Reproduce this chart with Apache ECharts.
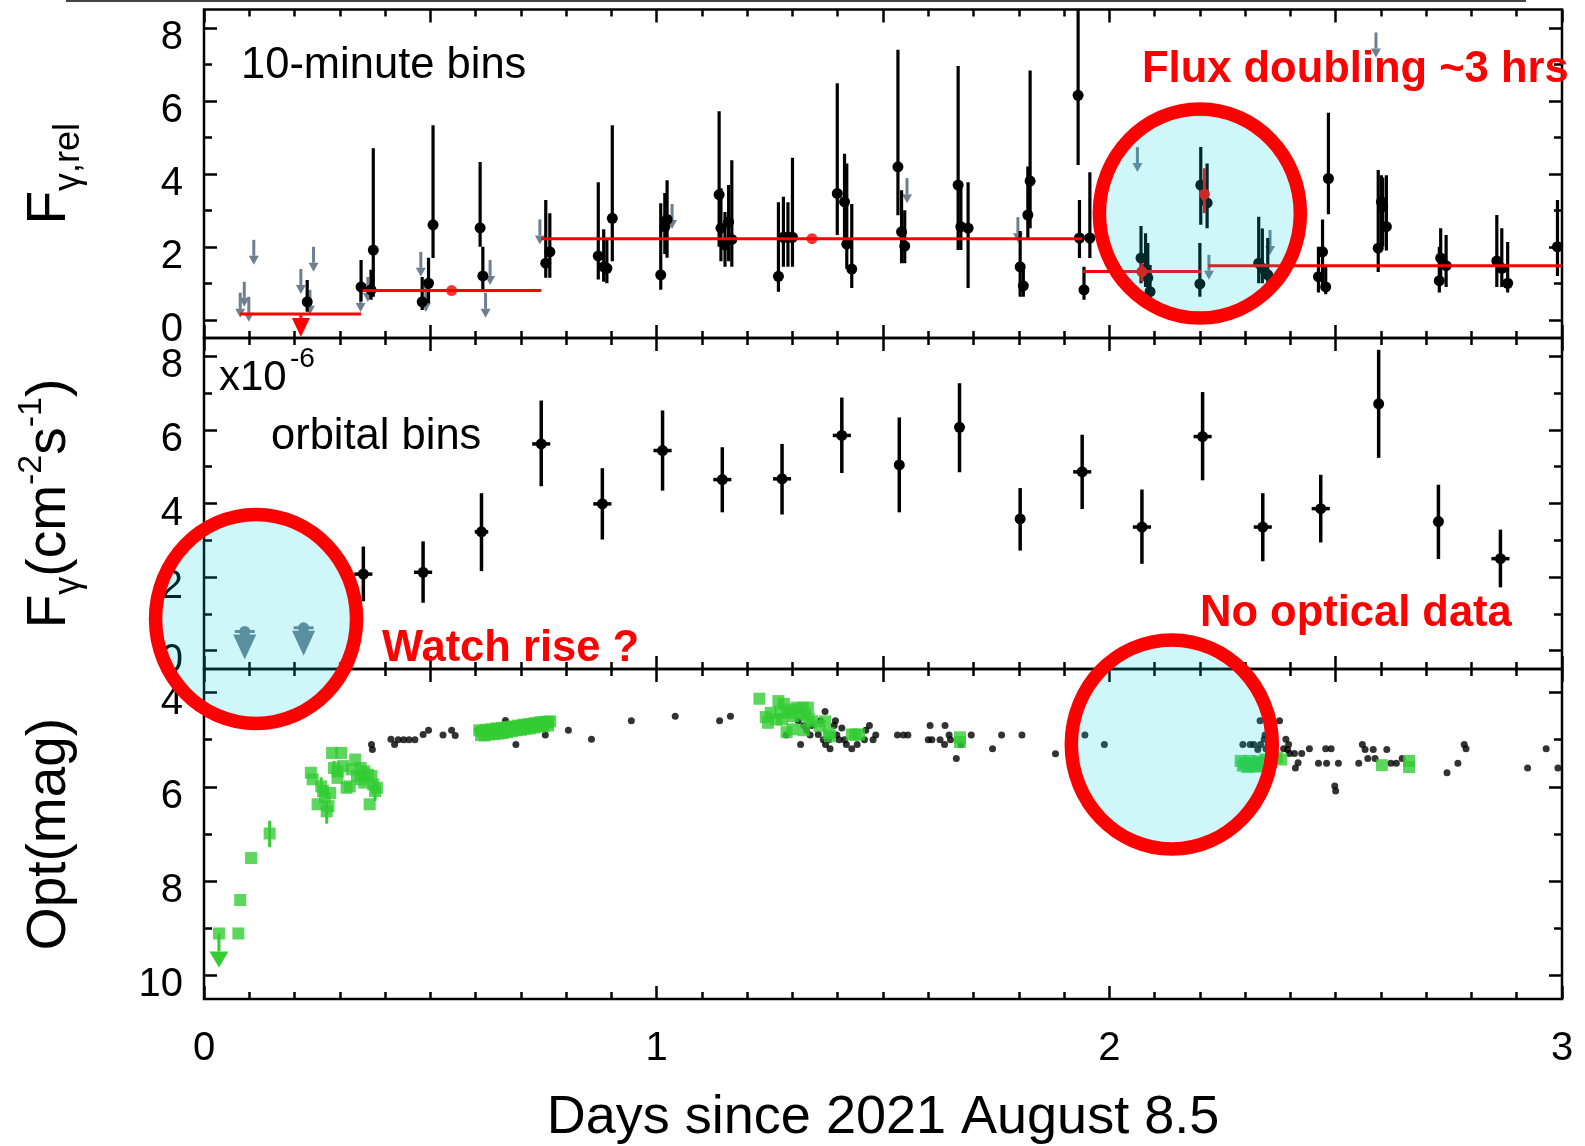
<!DOCTYPE html>
<html>
<head>
<meta charset="utf-8">
<title>Gamma-ray and optical light curves</title>
<script src="https://cdn.jsdelivr.net/npm/echarts@6.0.0/dist/echarts.min.js"></script>
<style>
  html, body { margin: 0; padding: 0; background: #fff; }
  #chart { width: 1585px; height: 1146px; }
</style>
</head>
<body>
<div id="chart"></div>
<script>
// ---- data (days since 2021 Aug 8.5) ----

// 10-minute bins: [day, flux, low, high]
const tenMinDetections = [
  [0.228, 0.49, 0.22, 1.09], [0.347, 0.90, 0.50, 1.64], [0.369, 0.82, 0.55, 1.37], [0.374, 1.91, 0.63, 4.70],
  [0.482, 0.49, 0.27, 1.17], [0.496, 1.00, 0.45, 1.70], [0.506, 2.60, 1.69, 5.33],
  [0.610, 2.52, 2.00, 4.32], [0.616, 1.20, 0.82, 2.00],
  [0.755, 1.55, 1.15, 3.28], [0.764, 1.86, 1.15, 2.92],
  [0.871, 1.75, 1.10, 3.77], [0.883, 1.45, 1.04, 2.48], [0.890, 1.41, 1.00, 2.20], [0.902, 2.78, 1.60, 5.33],
  [1.009, 1.23, 0.82, 3.19], [1.018, 2.55, 1.80, 3.47], [1.023, 2.75, 1.70, 3.82],
  [1.138, 3.43, 2.00, 5.71], [1.142, 2.51, 1.60, 3.60], [1.151, 2.05, 1.45, 2.95], [1.159, 2.68, 1.60, 3.69], [1.166, 2.20, 1.45, 4.37],
  [1.269, 1.19, 0.77, 3.22], [1.280, 2.26, 1.45, 3.37], [1.290, 2.26, 1.45, 3.22], [1.300, 2.26, 1.45, 4.44],
  [1.399, 3.46, 2.32, 6.48], [1.415, 3.23, 2.10, 4.55], [1.420, 2.07, 1.40, 4.28], [1.431, 1.39, 0.87, 3.17],
  [1.533, 4.19, 2.86, 7.40], [1.541, 2.41, 1.55, 3.55], [1.548, 2.02, 1.55, 3.00],
  [1.666, 3.69, 1.91, 6.95], [1.672, 2.55, 1.91, 3.60], [1.688, 2.51, 0.87, 3.77],
  [1.803, 1.45, 0.63, 2.43], [1.810, 0.93, 0.63, 1.50], [1.820, 2.87, 2.20, 4.20], [1.825, 3.80, 2.51, 6.83],
  [1.931, 6.15, 4.24, 8.50], [1.934, 2.24, 1.69, 3.28], [1.944, 0.82, 0.55, 1.45], [1.957, 2.24, 1.69, 4.04],
  [2.070, 1.69, 1.00, 2.57], [2.080, 1.40, 0.90, 2.37], [2.085, 1.15, 0.80, 2.10], [2.090, 0.77, 0.60, 1.50],
  [2.200, 0.98, 0.63, 2.10], [2.202, 3.69, 2.60, 4.73], [2.216, 3.20, 2.51, 4.28],
  [2.330, 1.55, 1.00, 2.82], [2.338, 1.41, 1.00, 2.50], [2.350, 1.23, 0.90, 2.24],
  [2.462, 1.18, 0.75, 2.00], [2.471, 1.86, 0.90, 2.75], [2.478, 0.90, 0.70, 1.50], [2.484, 3.87, 2.89, 5.67],
  [2.594, 1.96, 1.31, 4.10], [2.601, 3.23, 2.00, 3.96], [2.604, 3.10, 2.00, 3.90], [2.612, 2.55, 1.90, 3.96],
  [2.729, 1.07, 0.75, 2.00], [2.732, 1.69, 1.00, 2.51], [2.744, 1.48, 0.90, 2.32],
  [2.856, 1.61, 0.90, 2.87], [2.867, 1.41, 0.90, 2.51], [2.880, 1.00, 0.75, 2.13],
  [2.990, 2.00, 1.20, 3.28]
];
// 10-minute upper limits: [day, limit]
const tenMinLimits = [
  [0.080, 0.74], [0.089, 1.04], [0.099, 0.63], [0.110, 2.19], [0.214, 1.39], [0.234, 0.82], [0.242, 2.00],
  [0.346, 0.90], [0.362, 1.17], [0.479, 1.86], [0.490, 0.90], [0.622, 0.74], [0.632, 1.64], [0.742, 2.75],
  [1.034, 3.17], [1.553, 3.88], [1.798, 2.81], [2.062, 4.73], [2.220, 1.78], [2.355, 2.46], [2.589, 7.87]
];
// segment averages: [start, end, flux]
const segmentLevels = [
  [0.080, 0.347, 0.16], [0.350, 0.745, 0.80], [0.745, 1.940, 2.22], [1.942, 2.203, 1.32], [2.218, 3.000, 1.48]
];
const segmentPoints = [[0.547, 0.80], [1.343, 2.22]];
const segmentPointsErr = [[2.072, 1.32, 1.05, 1.55], [2.210, 3.44, 2.92, 4.15]];
const segmentLimit = [[0.214, 0.16]];

// orbital bins: [day, flux (1e-6), low, high, half-width]
const orbitalDetections = [
  [0.352, 2.08, 1.34, 2.83, 0.02], [0.484, 2.13, 1.30, 2.97, 0.02], [0.613, 3.23, 2.16, 4.28, 0.015],
  [0.745, 5.62, 4.47, 6.80, 0.02], [0.880, 3.99, 3.02, 4.96, 0.02], [1.013, 5.44, 4.35, 6.53, 0.02],
  [1.145, 4.65, 3.76, 5.53, 0.02], [1.277, 4.67, 3.70, 5.62, 0.02], [1.409, 5.85, 4.83, 6.88, 0.02],
  [1.536, 5.05, 3.76, 6.34, 0.01], [1.669, 6.07, 4.85, 7.27, 0.01], [1.803, 3.58, 2.72, 4.42, 0.01],
  [1.940, 4.86, 3.85, 5.87, 0.02], [2.072, 3.36, 2.36, 4.38, 0.02], [2.206, 5.82, 4.63, 7.03, 0.02],
  [2.339, 3.36, 2.43, 4.28, 0.02], [2.467, 3.86, 2.94, 4.78, 0.02], [2.595, 6.71, 5.24, 8.18, 0.01],
  [2.727, 3.51, 2.49, 4.51, 0.01], [2.864, 2.50, 1.72, 3.29, 0.02]
];
const orbitalLimits = [[0.090, 0.52], [0.220, 0.62]];

// optical magnitudes: [day, mag]
const optSmall = [
  [0.370, 5.10], [0.372, 5.21], [0.413, 4.99], [0.421, 5.10], [0.429, 5.00], [0.441, 5.00], [0.453, 5.00],
  [0.466, 5.00], [0.484, 4.89], [0.496, 4.80], [0.528, 4.90], [0.547, 4.80], [0.555, 4.91], [0.605, 4.80],
  [0.666, 4.59], [0.689, 5.10], [0.754, 4.90], [0.805, 4.80], [0.856, 4.99], [0.944, 4.60], [1.041, 4.50],
  [1.139, 4.60], [1.163, 4.50],
  [1.286, 4.90], [1.313, 4.60], [1.318, 5.10], [1.325, 4.70], [1.331, 4.80], [1.339, 4.90], [1.343, 4.70],
  [1.357, 4.89], [1.362, 4.60], [1.368, 5.00], [1.372, 4.40], [1.373, 5.10], [1.380, 5.00], [1.383, 5.19],
  [1.392, 4.70], [1.395, 4.60], [1.398, 4.90], [1.403, 5.00], [1.409, 4.75], [1.415, 5.00], [1.419, 5.10],
  [1.431, 5.19], [1.443, 5.10], [1.459, 5.00], [1.462, 4.80], [1.470, 4.70], [1.478, 5.00], [1.484, 4.90],
  [1.532, 4.90], [1.545, 4.90], [1.555, 4.90], [1.600, 5.00], [1.604, 4.70], [1.608, 5.00], [1.626, 5.00],
  [1.636, 5.10], [1.637, 4.70], [1.646, 4.90], [1.649, 5.00], [1.662, 5.40], [1.672, 5.10], [1.695, 4.90],
  [1.742, 5.19], [1.762, 4.90], [1.807, 4.90], [1.881, 5.30], [1.946, 4.90], [1.989, 5.10],
  [2.295, 5.10], [2.311, 5.10], [2.319, 5.10], [2.328, 5.21], [2.333, 4.60], [2.334, 5.10], [2.342, 4.99],
  [2.344, 4.90], [2.346, 5.19], [2.351, 5.10], [2.376, 4.60], [2.385, 5.19], [2.390, 4.99], [2.394, 5.21],
  [2.396, 5.10], [2.398, 5.29], [2.409, 5.29], [2.411, 5.60], [2.417, 5.49], [2.425, 5.29], [2.442, 5.19],
  [2.462, 5.50], [2.478, 5.19], [2.480, 5.50], [2.490, 5.19], [2.498, 5.98], [2.500, 6.09], [2.506, 5.50],
  [2.551, 5.50], [2.559, 5.10], [2.565, 5.21], [2.571, 5.40], [2.583, 5.21], [2.587, 5.40], [2.613, 5.21],
  [2.622, 5.50], [2.634, 5.50], [2.647, 5.40], [2.746, 5.70], [2.770, 5.50], [2.784, 5.10], [2.788, 5.19],
  [2.924, 5.60], [2.965, 5.19], [2.991, 5.60]
];
const optSquares = [
  [0.033, 9.11], [0.076, 9.11], [0.080, 8.40], [0.104, 7.51], [0.145, 6.99],
  [0.236, 5.70], [0.240, 5.84], [0.251, 6.37], [0.259, 5.99], [0.263, 6.09], [0.267, 6.23], [0.271, 6.52],
  [0.275, 6.41], [0.279, 6.13], [0.283, 5.28], [0.287, 5.60], [0.295, 5.81], [0.295, 5.67], [0.303, 5.28],
  [0.307, 5.56], [0.315, 6.02], [0.322, 5.99], [0.326, 5.63], [0.334, 5.42], [0.338, 5.77], [0.346, 5.60],
  [0.346, 5.84], [0.354, 5.91], [0.354, 5.67], [0.362, 5.74], [0.366, 6.37], [0.370, 5.77], [0.374, 5.95],
  [0.378, 6.09], [0.382, 6.02],
  [0.608, 4.80], [0.615, 4.82], [0.622, 4.79], [0.628, 4.81], [0.634, 4.78], [0.640, 4.80], [0.646, 4.76],
  [0.652, 4.78], [0.658, 4.75], [0.664, 4.77], [0.670, 4.73], [0.676, 4.75], [0.682, 4.72], [0.688, 4.73],
  [0.694, 4.70], [0.700, 4.71], [0.706, 4.68], [0.712, 4.70], [0.718, 4.67], [0.724, 4.68], [0.730, 4.65],
  [0.736, 4.66], [0.742, 4.63], [0.748, 4.64], [0.754, 4.62], [0.760, 4.63], [0.765, 4.61],
  [0.612, 4.90], [0.620, 4.91], [0.630, 4.89], [0.640, 4.88], [0.650, 4.87], [0.660, 4.86], [0.670, 4.84],
  [0.680, 4.82], [0.690, 4.80], [0.700, 4.79], [0.710, 4.77], [0.720, 4.76], [0.730, 4.74], [0.740, 4.72],
  [0.750, 4.71], [0.760, 4.70],
  [1.227, 4.13], [1.241, 4.52], [1.246, 4.64], [1.252, 4.43], [1.265, 4.57], [1.269, 4.18], [1.273, 4.40],
  [1.277, 4.57], [1.281, 4.24], [1.287, 4.84], [1.289, 4.43], [1.297, 4.36], [1.300, 4.78], [1.301, 4.50],
  [1.309, 4.32], [1.315, 4.43], [1.323, 4.32], [1.325, 4.80], [1.328, 4.47], [1.334, 4.32], [1.336, 4.56],
  [1.344, 4.61], [1.360, 4.71], [1.372, 4.61], [1.380, 4.86], [1.383, 4.93], [1.431, 4.89], [1.439, 4.89],
  [1.447, 4.89], [1.670, 4.95], [1.670, 5.05],
  [2.290, 5.45], [2.295, 5.55], [2.300, 5.50], [2.305, 5.58], [2.310, 5.45], [2.315, 5.55], [2.320, 5.50],
  [2.325, 5.57], [2.330, 5.46], [2.335, 5.55], [2.340, 5.50], [2.345, 5.42], [2.350, 5.52], [2.360, 5.40],
  [2.370, 5.38], [2.380, 5.42], [2.602, 5.54], [2.662, 5.45], [2.662, 5.58]
];
// optical error bars: [day, mag, low, high]
const optSquaresErr = [
  [0.145, 6.99, 6.72, 7.28], [0.271, 6.52, 6.30, 6.78], [0.259, 5.99, 5.80, 6.20],
  [0.378, 6.09, 5.90, 6.30], [0.287, 5.60, 5.45, 5.80]
];
const optSquaresLimit = [[0.033, 9.11]];

const fluxMajor = [0, 2, 4, 6, 8];
const fluxMinor = [1, 3, 5, 7];
const magMajor = [4, 6, 8, 10];
const magMinor = [5, 7, 9];
const dayLabels = [0, 1, 2, 3];

// ---- chart ----
const FONT = "'Liberation Sans', Arial, Helvetica, sans-serif";
const GREY = '#6e7f90';
const GREEN = '#33cc33';
const RED = '#ff0000';

const chart = echarts.init(document.getElementById('chart'));

const panels = [
  { top: 9.5, height: 328.5, min: -0.5, max: 8.5, inverse: false, major: fluxMajor, minor: fluxMinor },
  { top: 338, height: 331, min: -0.5, max: 8.5, inverse: false, major: fluxMajor, minor: fluxMinor },
  { top: 669, height: 330, min: 3.5, max: 10.5, inverse: true, major: magMajor, minor: magMinor }
];

const tickLine = { color: '#000', width: 2.5 };
const nameRich = {
  m: { fontSize: 55, fontFamily: FONT, color: '#000', lineHeight: 55, padding: [14, 0, 10, 0], verticalAlign: 'bottom' },
  s: { fontSize: 36, fontFamily: FONT, color: '#000', lineHeight: 36, verticalAlign: 'bottom' },
  p: { fontSize: 34, fontFamily: FONT, color: '#000', lineHeight: 34, padding: [0, 0, 38, 0], verticalAlign: 'bottom' }
};
const yNames = [
  { name: '{m|F}{s|γ,rel}', gap: 117 },
  { name: '{m|F}{s|γ}{m|(cm}{p|-2}{m|s}{p|-1}{m|)}', gap: 117 },
  { name: 'Opt(mag)', gap: 127 }
];

const grid = panels.map(p => ({
  left: 204, right: 23, top: p.top, height: p.height,
  show: true, borderColor: '#000', borderWidth: 2.5, backgroundColor: 'transparent'
}));

const xAxis = [];
const yAxis = [];
panels.forEach((p, gi) => {
  const last = gi === panels.length - 1;
  const xBase = {
    type: 'value', gridIndex: gi, min: 0, max: 3, splitLine: { show: false },
    axisLine: { show: false, onZero: false },
    axisTick: { inside: true, length: 13, lineStyle: tickLine },
    minorTick: { show: true, length: 7, lineStyle: tickLine },
    minorSplitLine: { show: false }
  };
  xAxis.push(Object.assign({}, xBase, {
    position: 'bottom',
    interval: last ? 1 : 0.5,
    minorTick: Object.assign({}, xBase.minorTick, { splitNumber: last ? 10 : 5 }),
    axisLabel: last
      ? { customValues: dayLabels, fontSize: 40, fontFamily: FONT, color: '#000', margin: 30 }
      : { show: false },
    name: last ? 'Days since 2021 August 8.5' : '',
    nameLocation: 'middle', nameGap: 92,
    nameTextStyle: { fontSize: 54, fontFamily: FONT, color: '#000' }
  }));
  xAxis.push(Object.assign({}, xBase, {
    position: 'top', interval: 0.5,
    minorTick: Object.assign({}, xBase.minorTick, { splitNumber: 5 }),
    axisLabel: { show: false }
  }));

  const yBase = {
    type: 'value', gridIndex: gi, min: p.min, max: p.max, inverse: p.inverse,
    splitLine: { show: false }, axisLine: { show: false, onZero: false }, axisLabel: { show: false }
  };
  const nm = yNames[gi];
  yAxis.push(Object.assign({}, yBase, {
    position: 'left',
    axisTick: { inside: true, length: 13, customValues: p.major, lineStyle: tickLine },
    axisLabel: {
      customValues: p.major, fontSize: 40, fontFamily: FONT, color: '#000', margin: 21,
      verticalAlign: 'top', lineHeight: 20
    },
    name: nm.name, nameLocation: 'middle', nameRotate: 90, nameGap: nm.gap,
    nameTextStyle: { fontSize: 55, fontFamily: FONT, color: '#000', rich: nameRich }
  }));
  yAxis.push(Object.assign({}, yBase, {
    position: 'left', axisTick: { inside: true, length: 8, customValues: p.minor, lineStyle: tickLine }
  }));
  yAxis.push(Object.assign({}, yBase, {
    position: 'right', axisTick: { inside: true, length: 13, customValues: p.major, lineStyle: tickLine }
  }));
  yAxis.push(Object.assign({}, yBase, {
    position: 'right', axisTick: { inside: true, length: 8, customValues: p.minor, lineStyle: tickLine }
  }));
});

// vertical (and optional horizontal) error bar with a dot
function errorBar(color, r, lw) {
  return function (params, api) {
    const x = api.value(0), y = api.value(1);
    const c = api.coord([x, y]);
    const lo = api.coord([x, api.value(2)]);
    const hi = api.coord([x, api.value(3)]);
    const kids = [{ type: 'line', shape: { x1: c[0], y1: lo[1], x2: c[0], y2: hi[1] }, style: { stroke: color, lineWidth: lw } }];
    const xe = api.value(4);
    if (xe) {
      const a = api.coord([x - xe, y]), b = api.coord([x + xe, y]);
      kids.push({ type: 'line', shape: { x1: a[0], y1: c[1], x2: b[0], y2: c[1] }, style: { stroke: color, lineWidth: lw } });
    }
    if (r) kids.push({ type: 'circle', shape: { cx: c[0], cy: c[1], r: r }, style: { fill: color } });
    return { type: 'group', children: kids };
  };
}

// downward arrow for an upper limit
function limitArrow(color, len, headH, headW, lw, extra) {
  return function (params, api) {
    const c = api.coord([api.value(0), api.value(1)]);
    const tip = c[1] + len, base = tip - headH;
    const kids = [];
    if (base > c[1]) kids.push({ type: 'line', shape: { x1: c[0], y1: c[1], x2: c[0], y2: base }, style: { stroke: color, lineWidth: lw } });
    kids.push({ type: 'polygon', shape: { points: [[c[0] - headW / 2, base], [c[0] + headW / 2, base], [c[0], tip]] }, style: { fill: color } });
    if (extra) {
      kids.push({ type: 'line', shape: { x1: c[0] - 10, y1: c[1], x2: c[0] + 10, y2: c[1] }, style: { stroke: color, lineWidth: 3 } });
      kids.push({ type: 'circle', shape: { cx: c[0], cy: c[1], r: 5.5 }, style: { fill: color } });
    }
    return { type: 'group', children: kids };
  };
}

function segmentLine(params, api) {
  const a = api.coord([api.value(0), api.value(2)]);
  const b = api.coord([api.value(1), api.value(2)]);
  return { type: 'line', shape: { x1: a[0], y1: a[1], x2: b[0], y2: b[1] }, style: { stroke: RED, lineWidth: 3 } };
}

const series = [
  { type: 'custom', xAxisIndex: 0, yAxisIndex: 0, data: tenMinDetections, encode: { x: 0, y: 1 },
    renderItem: errorBar('#000', 5.5, 3.2), clip: true, z: 3 },
  { type: 'custom', xAxisIndex: 0, yAxisIndex: 0, data: tenMinLimits, encode: { x: 0, y: 1 },
    renderItem: limitArrow(GREY, 25, 9, 10, 3), z: 2 },
  { type: 'custom', xAxisIndex: 0, yAxisIndex: 0, data: segmentLevels, encode: { x: [0, 1], y: 2 },
    renderItem: segmentLine, z: 4 },
  { type: 'custom', xAxisIndex: 0, yAxisIndex: 0, data: segmentLimit, encode: { x: 0, y: 1 },
    renderItem: limitArrow(RED, 23, 19, 18, 3), z: 4 },
  { type: 'scatter', xAxisIndex: 0, yAxisIndex: 0, data: segmentPoints, symbol: 'circle', symbolSize: 11,
    itemStyle: { color: RED }, z: 5 },
  { type: 'custom', xAxisIndex: 0, yAxisIndex: 0, data: segmentPointsErr, encode: { x: 0, y: 1 },
    renderItem: errorBar(RED, 5.5, 3), z: 5 },

  { type: 'custom', xAxisIndex: 2, yAxisIndex: 4, data: orbitalDetections, encode: { x: 0, y: 1 },
    renderItem: errorBar('#000', 5.5, 3.5), z: 3 },
  { type: 'custom', xAxisIndex: 2, yAxisIndex: 4, data: orbitalLimits, encode: { x: 0, y: 1 },
    renderItem: limitArrow(GREY, 28, 25, 23, 3, true), z: 3 },

  { type: 'scatter', xAxisIndex: 4, yAxisIndex: 8, data: optSmall, symbol: 'circle', symbolSize: 7,
    itemStyle: { color: '#000' }, z: 3 },
  { type: 'custom', xAxisIndex: 4, yAxisIndex: 8, data: optSquaresErr, encode: { x: 0, y: 1 },
    renderItem: errorBar(GREEN, 0, 3), z: 4 },
  { type: 'scatter', xAxisIndex: 4, yAxisIndex: 8, data: optSquares, symbol: 'rect', symbolSize: 12,
    itemStyle: { color: GREEN }, z: 4 },
  { type: 'custom', xAxisIndex: 4, yAxisIndex: 8, data: optSquaresLimit, encode: { x: 0, y: 1 },
    renderItem: limitArrow(GREEN, 34, 16, 19, 3), z: 4 }
];

chart.setOption({
  animation: false,
  backgroundColor: '#fff',
  textStyle: { fontFamily: FONT },
  grid: grid,
  xAxis: xAxis,
  yAxis: yAxis,
  series: series
});

// ---- annotations ----
const highlightRings = [
  { xAxisIndex: 0, yAxisIndex: 0, at: [2.200, 2.91] },
  { xAxisIndex: 2, yAxisIndex: 4, at: [0.115, 0.86] },
  { xAxisIndex: 4, yAxisIndex: 8, at: [2.138, 5.10] }
];

function label(text, x, baseline, size, bold, color) {
  return {
    type: 'text', x: x, y: baseline - 0.27 * size, z: 120, silent: true,
    style: {
      text: text, fontSize: size, fontFamily: FONT, fontWeight: bold ? 'bold' : 'normal',
      fill: color || '#000', align: 'left', verticalAlign: 'middle'
    }
  };
}

const rings = highlightRings.map(r => {
  const c = chart.convertToPixel({ xAxisIndex: r.xAxisIndex, yAxisIndex: r.yAxisIndex }, r.at);
  return {
    type: 'ellipse', z: 100, silent: true,
    shape: { cx: c[0], cy: c[1], rx: 100.5, ry: 104.5 },
    style: { fill: 'rgba(0, 210, 225, 0.19)', stroke: RED, lineWidth: 13.5 }
  };
});

chart.setOption({
  graphic: [
    { type: 'line', z: 90, silent: true, shape: { x1: 66, y1: 1, x2: 1526, y2: 1 }, style: { stroke: '#444', lineWidth: 2 } }
  ].concat(rings, [
    label('10-minute bins', 241, 78, 43.5, false),
    label('orbital bins', 271, 449, 43.5, false),
    label('x10', 219, 390, 42, false),
    label('-6', 290, 367, 28, false),
    label('Flux doubling ~3 hrs', 1142, 82, 43.5, true, RED),
    label('Watch rise ?', 382, 661, 43.5, true, RED),
    label('No optical data', 1200, 626, 43.5, true, RED)
  ])
});

window.addEventListener('resize', () => chart.resize());
</script>
</body>
</html>
